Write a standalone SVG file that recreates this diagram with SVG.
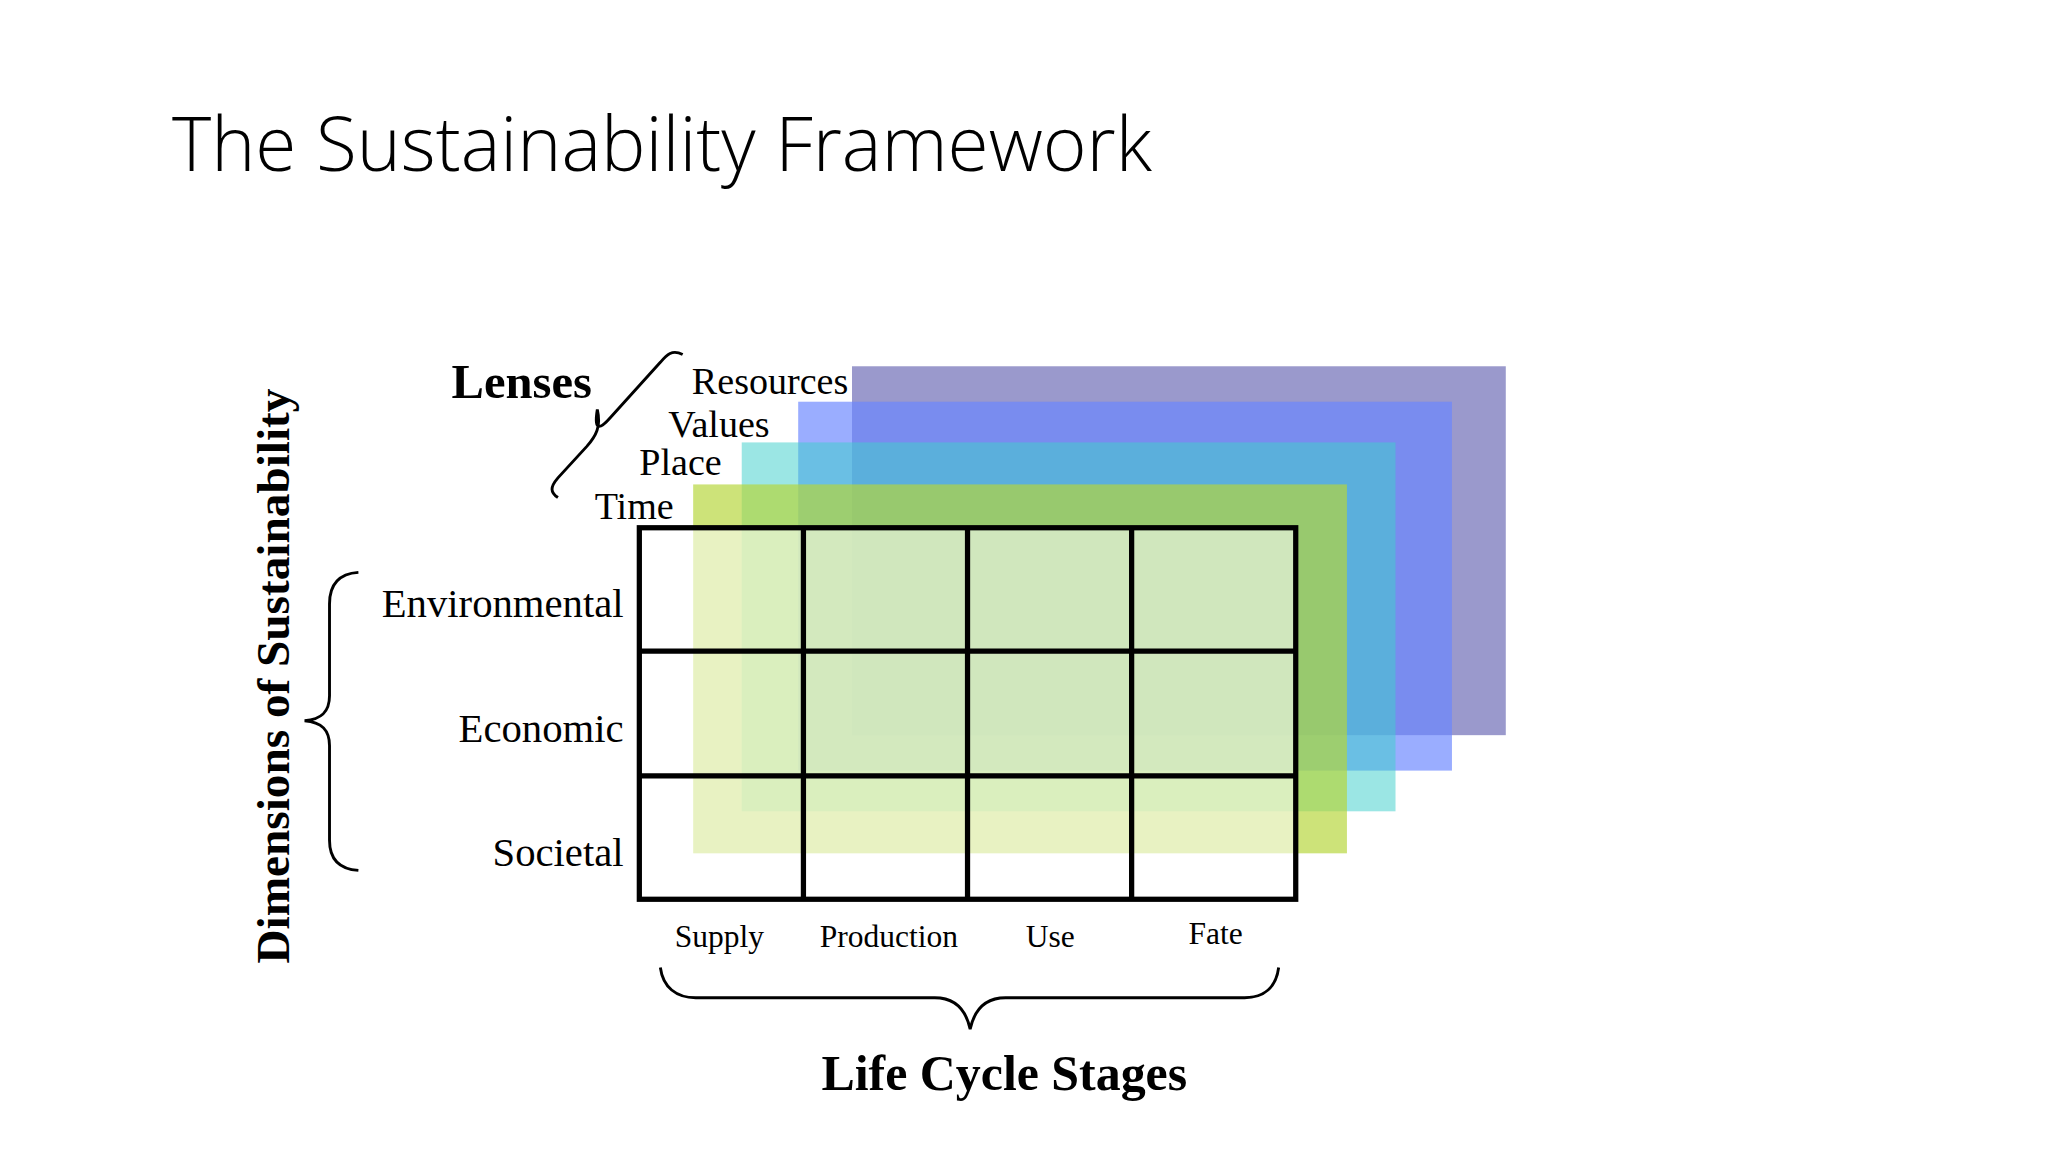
<svg xmlns="http://www.w3.org/2000/svg" width="2048" height="1152" viewBox="0 0 2048 1152">
<style>
.t{font-family:"Liberation Serif",serif;fill:#000}
.b{font-weight:bold}
.br{fill:none;stroke:#000;stroke-width:2.2}
.g{fill:none;stroke:#000;stroke-width:4}
</style>
<rect width="2048" height="1152" fill="#fff"/>
<g transform="scale(1.3128)">
<g id="title"><text x="131" y="130" font-family="Open Sans,sans-serif" font-weight="300" font-size="57">The Sustainability Framework</text></g>
<g id="layers">
<rect id="resources" x="649" y="279" width="498" height="281" fill="#9a99cc"/>
<rect id="values" x="608" y="306" width="498" height="281" fill="#6a86ff" opacity="0.68"/>
<rect id="place" x="565" y="337" width="498" height="281" fill="#3fd0cc" opacity="0.52"/>
<rect id="time" x="528" y="369" width="498" height="281" fill="#b6d63a" opacity="0.68"/>
</g>
<g id="grid">
<rect x="487" y="402" width="500" height="283" fill="#fff" opacity="0.55"/>
<rect class="g" x="487" y="402" width="500" height="283"/>
<path class="g" d="M612 402V685M737 402V685M862 402V685M487 496H987M487 591H987"/>
</g>
<g id="labels">
<text class="t b" x="344" y="303" font-size="37">Lenses</text>
<text class="t" x="527" y="300" font-size="29">Resources</text>
<text class="t" x="509" y="333" font-size="29">Values</text>
<text class="t" x="487" y="362" font-size="29">Place</text>
<text class="t" x="453" y="395" font-size="29">Time</text>
<text class="t" x="475" y="470" font-size="31" text-anchor="end">Environmental</text>
<text class="t" x="475" y="565" font-size="31" text-anchor="end">Economic</text>
<text class="t" x="475" y="660" font-size="31" text-anchor="end">Societal</text>
<text class="t" x="548" y="721" font-size="24" text-anchor="middle">Supply</text>
<text class="t" x="677" y="721" font-size="24" text-anchor="middle">Production</text>
<text class="t" x="800" y="721" font-size="24" text-anchor="middle">Use</text>
<text class="t" x="926" y="719" font-size="24" text-anchor="middle">Fate</text>
<text class="t b" x="765" y="830" font-size="38" text-anchor="middle">Life Cycle Stages</text>
<text class="t b" transform="translate(220,515) rotate(-90)" font-size="36" text-anchor="middle">Dimensions of Sustainability</text>
</g>
<g id="connectors">
<path class="br" d="M273 436C258 437 251 445 251 460V530C251 542 245 548 232 549C245 550 251 556 251 568V640C251 654 258 662 273 663"/>
<path class="br" d="M503 737C505 752 515 760 530 760H712C728 760 736 770 739 784C742 770 750 760 766 760H948C963 760 972 752 974 737"/>
<path class="br" d="M520 270C512 266 508 270 503 276L465 318C458 326 452 330 455 312C458 325 454 332 447 340L425 364C419 371 419 375 425 379"/>
</g>
</g>
</svg>
